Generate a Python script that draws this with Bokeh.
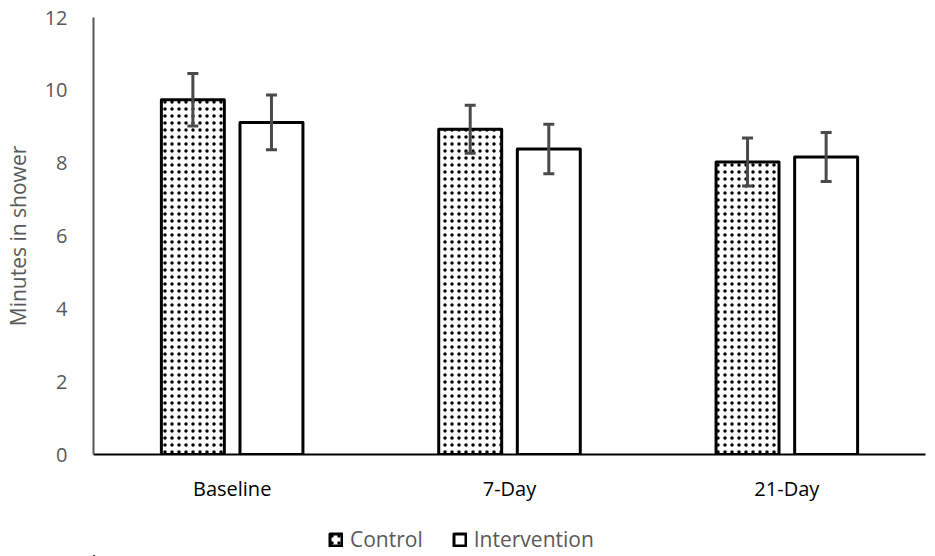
from bokeh.plotting import figure
from bokeh.layouts import column
from bokeh.models import (ColumnDataSource, FactorRange, Range1d, Whisker, TeeHead,
                          Legend, LegendItem, FixedTicker)
from bokeh.transform import dodge
from bokeh.embed import file_html
from bokeh.resources import INLINE

categories = ["Baseline", "7-Day", "21-Day"]
control = [9.74, 8.93, 8.03]
intervention = [9.12, 8.39, 8.17]
control_err = [0.72, 0.66, 0.66]
intervention_err = [0.75, 0.68, 0.67]
y_ticks = [0, 2, 4, 6, 8, 10, 12]
series_names = ["Control", "Intervention"]

src = ColumnDataSource(dict(
    cat=categories,
    control=control,
    intervention=intervention,
    c_up=[v + e for v, e in zip(control, control_err)],
    c_lo=[v - e for v, e in zip(control, control_err)],
    i_up=[v + e for v, e in zip(intervention, intervention_err)],
    i_lo=[v - e for v, e in zip(intervention, intervention_err)],
))

FONT = "Open Sans"
GREY = "#595959"
CONTROL_STYLE = dict(fill_color="white", line_color="black", line_width=3, line_join="round",
                     hatch_pattern="dot", hatch_color="black", hatch_scale=7, hatch_weight=1.4)
INTERV_STYLE = dict(fill_color="white", line_color="black", line_width=3, line_join="round")

p = figure(width=935, height=520, output_backend="svg", toolbar_location=None,
           x_range=FactorRange(factors=categories, range_padding=0),
           y_range=Range1d(0, 12),
           min_border_left=93, min_border_right=10, min_border_top=17, min_border_bottom=66)
p.outline_line_color = None
p.xgrid.visible = False
p.ygrid.visible = False

bw = 0.227
off = 0.1417
r_c = p.vbar(x=dodge("cat", -off, range=p.x_range), top="control", width=bw, source=src,
             **CONTROL_STYLE)
r_i = p.vbar(x=dodge("cat", off, range=p.x_range), top="intervention", width=bw, source=src,
             **INTERV_STYLE)

EB = "#4a4a4a"
for base, up, lo in [(-off, "c_up", "c_lo"), (off, "i_up", "i_lo")]:
    w = Whisker(source=src, base=dodge("cat", base, range=p.x_range), upper=up, lower=lo,
                line_color=EB, line_width=3, level="overlay",
                upper_head=TeeHead(size=11, line_color=EB, line_width=3),
                lower_head=TeeHead(size=11, line_color=EB, line_width=3))
    p.add_layout(w)

# axes
p.yaxis.ticker = FixedTicker(ticks=y_ticks)
p.yaxis.axis_label = "Minutes in shower"
p.yaxis.axis_label_text_font = FONT
p.yaxis.axis_label_text_font_size = "21px"
p.yaxis.axis_label_text_font_style = "normal"
p.yaxis.axis_label_text_color = GREY
p.yaxis.axis_label_standoff = 10
p.yaxis.major_label_text_font = FONT
p.yaxis.major_label_text_font_size = "20px"
p.yaxis.major_label_text_color = GREY
p.yaxis.major_label_standoff = 20
p.yaxis.major_tick_line_color = None
p.yaxis.minor_tick_line_color = None
p.yaxis.axis_line_color = GREY
p.yaxis.axis_line_width = 2

p.xaxis.major_label_text_font = FONT
p.xaxis.major_label_text_font_size = "20px"
p.xaxis.major_label_text_color = "black"
p.xaxis.major_label_standoff = 14
p.xaxis.major_tick_line_color = None
p.xaxis.minor_tick_line_color = None
p.xaxis.axis_line_color = "black"
p.xaxis.axis_line_width = 2

# legend strip below the chart; its proxy glyphs are zero-size and outside both ranges
lg = figure(width=935, height=36, output_backend="svg", toolbar_location=None,
            x_range=Range1d(0, 1), y_range=Range1d(1, 2),
            x_axis_location=None, y_axis_location=None, min_border=0)
lg.outline_line_color = None
lg.xgrid.visible = False
lg.ygrid.visible = False
lsrc = ColumnDataSource(dict(x=[-20.0], top=[0.0]))
lr_c = lg.vbar(x="x", top="top", bottom="top", width=0.0, source=lsrc, **CONTROL_STYLE)
lr_i = lg.vbar(x="x", top="top", bottom="top", width=0.0, source=lsrc, **INTERV_STYLE)
legend = Legend(items=[LegendItem(label=series_names[0], renderers=[lr_c]),
                       LegendItem(label=series_names[1], renderers=[lr_i])],
                orientation="horizontal", location=(235, 3),
                label_text_font=FONT, label_text_font_size="21px", label_text_color=GREY,
                glyph_width=15, glyph_height=15, label_standoff=7, spacing=29,
                padding=0, margin=0, border_line_color=None, background_fill_alpha=0)
lg.add_layout(legend, "center")

layout = column(p, lg, spacing=0)
open("out.html", "w").write(file_html(layout, INLINE))
